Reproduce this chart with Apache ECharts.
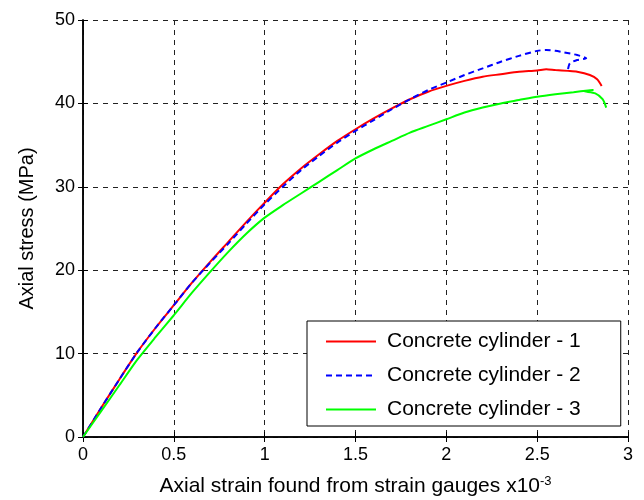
<!DOCTYPE html>
<html>
<head>
<meta charset="utf-8">
<script src="https://cdn.jsdelivr.net/npm/echarts@6/dist/echarts.min.js"></script>
<style>
  html, body { margin: 0; padding: 0; background: #fff; }
  #chart { width: 644px; height: 500px; }
</style>
</head>
<body>
<div id="chart"></div>
<script>
(function () {
  var myChart = echarts.init(document.getElementById('chart'));

  var seriesNames = ['Concrete cylinder - 1', 'Concrete cylinder - 2', 'Concrete cylinder - 3'];

  // [strain x10^-3, stress MPa]
  var cylinder1 = [
    [0, 0], [0.1, 3.5], [0.2, 6.9], [0.3, 10.2], [0.4, 13.1], [0.5, 15.8],
    [0.6, 18.5], [0.7, 21.0], [0.8, 23.4], [0.9, 25.8], [1.0, 28.1], [1.1, 30.3],
    [1.2, 32.2], [1.3, 33.9], [1.4, 35.5], [1.5, 36.9], [1.6, 38.2], [1.7, 39.4],
    [1.8, 40.5], [1.9, 41.4], [2.0, 42.1], [2.1, 42.7], [2.2, 43.2], [2.3, 43.5],
    [2.4, 43.8], [2.5, 43.95], [2.55, 44.1], [2.6, 44.0], [2.67, 43.9], [2.72, 43.8],
    [2.79, 43.4], [2.83, 42.9], [2.855, 42.1]
  ];
  var cylinder2 = [
    [0, 0], [0.1, 3.5], [0.2, 6.9], [0.3, 10.2], [0.4, 13.1], [0.5, 15.8],
    [0.6, 18.5], [0.7, 20.9], [0.8, 23.2], [0.9, 25.6], [1.0, 27.9], [1.1, 30.0],
    [1.2, 32.0], [1.3, 33.7], [1.4, 35.3], [1.5, 36.7], [1.6, 38.0], [1.7, 39.3],
    [1.8, 40.5], [1.9, 41.6], [2.0, 42.5], [2.1, 43.4], [2.2, 44.2], [2.3, 45.0],
    [2.4, 45.7], [2.5, 46.3], [2.55, 46.4], [2.6, 46.3], [2.65, 46.1], [2.72, 45.8],
    [2.77, 45.4], [2.72, 45.2], [2.68, 44.8], [2.67, 44.1]
  ];
  var cylinder3 = [
    [0, 0], [0.1, 3.1], [0.2, 6.2], [0.3, 9.3], [0.4, 12.0], [0.5, 14.6],
    [0.6, 17.3], [0.7, 19.8], [0.8, 22.2], [0.9, 24.4], [1.0, 26.3], [1.1, 27.8],
    [1.2, 29.2], [1.3, 30.6], [1.4, 32.0], [1.5, 33.4], [1.6, 34.5], [1.7, 35.5],
    [1.8, 36.5], [1.9, 37.3], [2.0, 38.1], [2.1, 38.9], [2.2, 39.5], [2.3, 40.0],
    [2.4, 40.4], [2.5, 40.8], [2.6, 41.1], [2.7, 41.35], [2.78, 41.55], [2.81, 41.6],
    [2.76, 41.45], [2.82, 41.2], [2.86, 40.5], [2.88, 39.5]
  ];

  var font = 'Liberation Sans, Arial, sans-serif';

  var frameAxis = {
    axisLine: { show: true, lineStyle: { color: '#000', width: 1.5 } },
    axisTick: { show: true, inside: true, length: 5, lineStyle: { color: '#000' } },
    axisLabel: { show: false },
    splitLine: { show: false }
  };

  myChart.setOption({
    animation: false,
    backgroundColor: '#fff',
    grid: { left: 83, right: 16, top: 20, bottom: 63, outerBoundsMode: 'none' },
    legend: {
      orient: 'vertical',
      left: 307,
      top: 321,
      padding: [10, 40, 6, 18],
      itemWidth: 50,
      itemHeight: 14,
      itemGap: 13,
      backgroundColor: '#fff',
      borderColor: '#000',
      borderWidth: 1,
      borderRadius: 0,
      itemStyle: { opacity: 0 },
      textStyle: { color: '#000', fontSize: 21, fontFamily: font, padding: [0, 0, 0, 6] },
      data: seriesNames
    },
    xAxis: [
      {
        type: 'value',
        min: 0, max: 3, interval: 0.5,
        name: 'Axial strain found from strain gauges x10{sup|-3}',
        nameLocation: 'middle',
        nameGap: 38,
        nameTextStyle: {
          color: '#000', fontSize: 21, fontFamily: font,
          rich: { sup: { fontSize: 13, fontFamily: font, color: '#000', verticalAlign: 'top', padding: [0, 0, 10, 0] } }
        },
        axisLine: { show: true, lineStyle: { color: '#000', width: 1.5 } },
        axisTick: { show: true, inside: true, length: 5, lineStyle: { color: '#000' } },
        axisLabel: { color: '#000', fontSize: 18, fontFamily: font, margin: 9 },
        splitLine: { show: true, lineStyle: { color: '#222', type: [5, 5], width: 1 } }
      },
      Object.assign({ type: 'value', position: 'top', min: 0, max: 3, interval: 0.5 }, frameAxis)
    ],
    yAxis: [
      {
        type: 'value',
        min: 0, max: 50, interval: 10,
        name: 'Axial stress (MPa)',
        nameLocation: 'middle',
        nameGap: 46,
        nameTextStyle: { color: '#000', fontSize: 20, fontFamily: font },
        axisLine: { show: true, lineStyle: { color: '#000', width: 1.5 } },
        axisTick: { show: true, inside: true, length: 5, lineStyle: { color: '#000' } },
        axisLabel: { color: '#000', fontSize: 18, fontFamily: font, margin: 8 },
        splitLine: { show: true, lineStyle: { color: '#222', type: [5, 5], width: 1 } }
      },
      Object.assign({ type: 'value', position: 'right', min: 0, max: 50, interval: 10 }, frameAxis)
    ],
    series: [
      {
        name: seriesNames[0],
        type: 'line',
        data: cylinder1,
        symbol: 'none',
        smooth: 0.25,
        lineStyle: { color: '#ff0000', width: 2 },
        itemStyle: { color: '#ff0000' }
      },
      {
        name: seriesNames[1],
        type: 'line',
        data: cylinder2,
        symbol: 'none',
        smooth: 0.25,
        lineStyle: { color: '#0000ff', width: 2, type: [6, 4] },
        itemStyle: { color: '#0000ff' }
      },
      {
        name: seriesNames[2],
        type: 'line',
        data: cylinder3,
        symbol: 'none',
        smooth: 0.25,
        lineStyle: { color: '#00ff00', width: 2 },
        itemStyle: { color: '#00ff00' }
      }
    ]
  });

  window.addEventListener('resize', function () {
    myChart.resize();
  });
})();
</script>
</body>
</html>
